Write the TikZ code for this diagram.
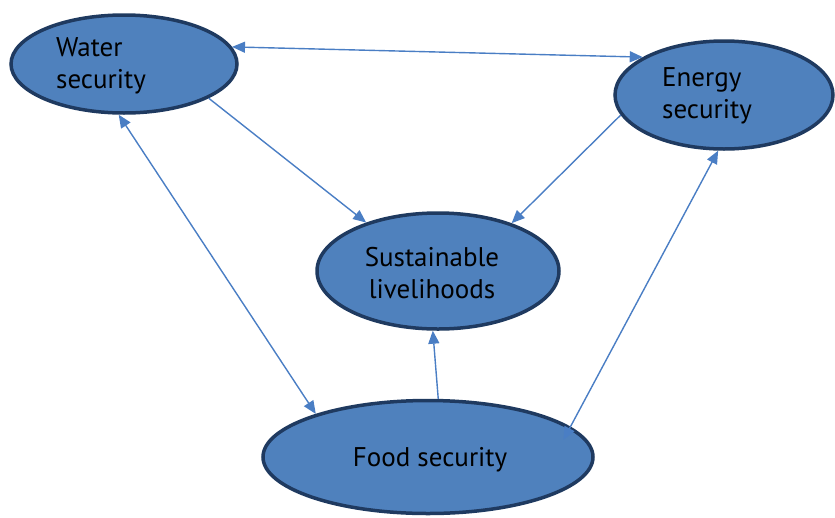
\documentclass[tikz,border=0pt]{standalone}
\usepackage{fontspec}
\setmainfont{PT Sans}
\usepackage{tikz}
\usetikzlibrary{shapes.geometric, arrows.meta, positioning}
\definecolor{nexus-fill}{HTML}{4F81BD}
\definecolor{nexus-edge}{HTML}{1F3A60}
\definecolor{nexus-line}{HTML}{4A7EC4}

\begin{document}
\begin{tikzpicture}[
    x=1pt, y=-1pt,
    sec/.style={ellipse, draw=nexus-edge, line width=3.5pt, fill=nexus-fill, inner sep=0pt},
    lbl/.style={font=\fontsize{27}{32}\selectfont, align=left, text=black},
    link/.style={line width=1.4pt, nexus-line, -{Triangle[length=13pt, width=11pt]}},
    dlink/.style={link, {Triangle[length=13pt, width=11pt]}-{Triangle[length=13pt, width=11pt]}}
]
    \useasboundingbox (0,0) rectangle (835,517);
    \node (water) [sec, minimum width=226pt, minimum height=98pt] at (124,64) {};
    \node (energy) [sec, minimum width=218pt, minimum height=108pt] at (724,95) {};
    \node (sust) [sec, minimum width=242pt, minimum height=116pt] at (438,271) {};
    \node (food) [sec, minimum width=330pt, minimum height=113pt] at (428,457) {};

    \node (water-txt) [lbl] at (101,66) {Water\\security};
    \node (energy-txt) [lbl] at (707,96) {Energy\\security};
    \node (sust-txt) [lbl, align=center] at (432,273) {Sustainable\\livelihoods};
    \node (food-txt) [lbl] at (430,460) {Food security};

    \draw [dlink] (water.9) -- (energy.155);
    \draw [link] (water.-22) -- (sust.146);
    \draw [link] (energy.-169) -- (sust.33);
    \draw [dlink] (water.-96) -- (food.159);
    \draw [link] (food.80) -- (sust.-95);
    \draw [dlink, shorten <=-15pt] (food.12) -- (energy.-96);
\end{tikzpicture}
\end{document}
